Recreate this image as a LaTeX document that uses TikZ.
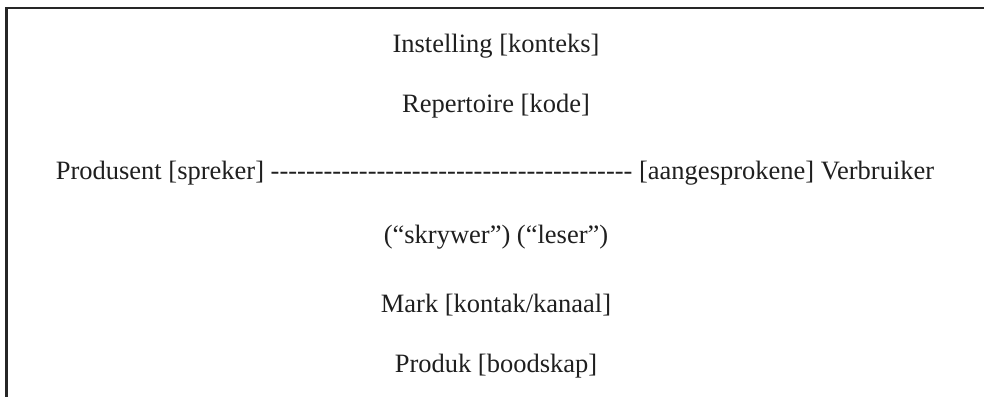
\documentclass[tikz,border=0pt]{standalone}
\usepackage{fontspec}
\setmainfont{Liberation Serif}
\begin{document}
\begin{tikzpicture}[x=1pt,y=1pt,
  lbl/.style={anchor=base,inner sep=0pt,outer sep=0pt,text=black!88,font=\fontsize{26.5}{30}\selectfont},
  frame/.style={draw=black!85,line width=2.5pt}]
\useasboundingbox (0,0) rectangle (984,397);
\coordinate (tl) at (6.5,389);
\coordinate (tr) at (984,389);
\coordinate (bl) at (6.5,0);
\draw[frame] (tr) -- (tl) -- (bl);
\node[lbl] (l1) at (496,344) {Instelling [konteks]};
\node[lbl] (l2) at (496,284) {Repertoire [kode]};
\node[lbl] (l3) at (495,218) {Produsent [spreker] -{}-{}-{}-{}-{}-{}-{}-{}-{}-{}-{}-{}-{}-{}-{}-{}-{}-{}-{}-{}-{}-{}-{}-{}-{}-{}-{}-{}-{}-{}-{}-{}-{}-{}-{}-{}-{}-{}-{}-{}- [aangesprokene] Verbruiker};
\node[lbl] (l4) at (496,154) {(“skrywer”) (“leser”)};
\node[lbl] (l5) at (496,85) {Mark [kontak/kanaal]};
\node[lbl] (l6) at (496,25) {Produk [boodskap]};
\end{tikzpicture}
\end{document}
